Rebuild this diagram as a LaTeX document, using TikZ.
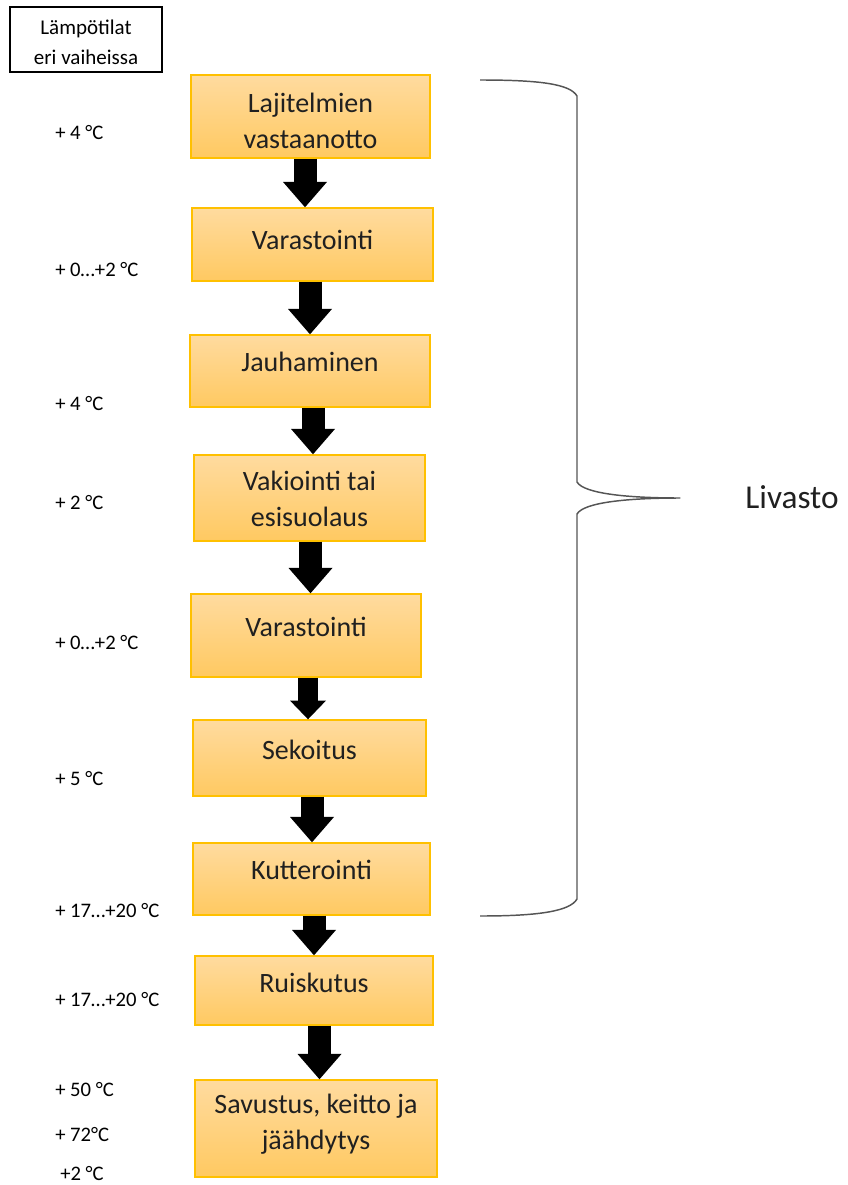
\documentclass[tikz,border=0pt]{standalone}
\usepackage{fontspec}
\setmainfont{Carlito}
\usetikzlibrary{arrows.meta,fit,calc}
\definecolor{boxtop}{HTML}{FFDB9F}
\definecolor{boxbot}{HTML}{FFC961}
\definecolor{boxline}{HTML}{FFC000}
\definecolor{txt}{HTML}{202020}
\definecolor{bracecol}{HTML}{555555}
\begin{document}
\begin{tikzpicture}[x=0.75pt,y=-0.75pt,
  box/.style={draw=boxline, line width=1.1pt, top color=boxtop, bottom color=boxbot, inner sep=0pt},
  boxtext/.style={font=\fontsize{21}{27}\selectfont, text=txt, align=center, inner sep=0pt},
  temp/.style={font=\fontsize{15.5}{18}\selectfont, text=black, anchor=west, inner sep=0pt},
  blkA/.style={line width=17.25pt, -{Triangle[width=33pt,length=19pt,line width=0pt]}},
  blkS/.style={line width=15pt, -{Triangle[width=27pt,length=14pt,line width=0pt]}},
  bracestyle/.style={draw=bracecol, line width=1.1pt, line join=round}
]
\useasboundingbox (0,0) rectangle (847,1185);

% header
\node[draw=black, line width=1.1pt, inner sep=0pt, fit={(10,7) (162,72)}] (hb) {};
\node[font=\fontsize{15.75}{22.5}\selectfont, align=center, inner sep=0pt] (ht) at (86,42) {Lämpötilat\\eri vaiheissa};

% boxes
\node[box, fit={(191,75) (430,158)}] (b1) {};
\node[box, fit={(192,208) (433,281)}] (b2) {};
\node[box, fit={(190,335) (430,407)}] (b3) {};
\node[box, fit={(194,455) (425,541)}] (b4) {};
\node[box, fit={(191,594) (421,677)}] (b5) {};
\node[box, fit={(193,720) (426,796)}] (b6) {};
\node[box, fit={(193,843) (430,915)}] (b7) {};
\node[box, fit={(195,956) (433,1025)}] (b8) {};
\node[box, fit={(195,1080) (437,1177)}] (b9) {};

\node[boxtext] (t1) at (310.5,121) {Lajitelmien\\vastaanotto};
\node[boxtext] (t2) at (312.5,240) {Varastointi};
\node[boxtext] (t3) at (310,362) {Jauhaminen};
\node[boxtext] (t4) at (309.5,499) {Vakiointi tai\\esisuolaus};
\node[boxtext] (t5) at (306,627) {Varastointi};
\node[boxtext] (t6) at (309.5,750) {Sekoitus};
\node[boxtext] (t7) at (311.5,870) {Kutterointi};
\node[boxtext] (t8) at (314,983) {Ruiskutus};
\node[boxtext] (t9) at (316,1124) {Savustus, keitto ja\\jäähdytys};

% arrows
\draw[blkA] (305,0 |- b1.south) -- (305,0 |- b2.north);
\draw[blkA] (310,0 |- b2.south) -- (310,0 |- b3.north);
\draw[blkA] (313,0 |- b3.south) -- (313,0 |- b4.north);
\draw[blkA] (310.5,0 |- b4.south) -- (310.5,0 |- b5.north);
\draw[blkS] (308,0 |- b5.south) -- (308,0 |- b6.north);
\draw[blkA] (312,0 |- b6.south) -- (312,0 |- b7.north);
\draw[blkA] (314,0 |- b7.south) -- (314,0 |- b8.north);
\draw[blkA] (319.5,0 |- b8.south) -- (319.5,0 |- b9.north);

% temperatures
\node[temp] (p1) at (55,133) {+ 4 °C};
\node[temp] (p2) at (55,270) {+ 0…+2 °C};
\node[temp] (p3) at (55,404) {+ 4 °C};
\node[temp] (p4) at (55,502) {+ 2 °C};
\node[temp] (p5) at (55,643) {+ 0…+2 °C};
\node[temp] (p6) at (55,778) {+ 5 °C};
\node[temp] (p7) at (55,911) {+ 17…+20 °C};
\node[temp] (p8) at (55,1000) {+ 17…+20 °C};
\node[temp] (p9) at (55,1089) {+ 50 °C};
\node[temp] (p10) at (55,1134) {+ 72°C};
\node[temp] (p11) at (60,1173) {+2 °C};

% brace
\coordinate (bt) at (480,80);
\coordinate (bb) at (480,916);
\coordinate (btip) at (680,498);
\draw[bracestyle] (bt) .. controls (540,80) and (570,84) .. (577,96)
  -- (577,482) .. controls (584,494) and (630,498) .. (btip)
  .. controls (630,498) and (584,502) .. (577,514)
  -- (577,899) .. controls (570,911) and (540,916) .. (bb);
\node[font=\fontsize{25}{30}\selectfont, text=txt, inner sep=0pt] (liv) at (792,497) {Livasto};
\end{tikzpicture}
\end{document}
